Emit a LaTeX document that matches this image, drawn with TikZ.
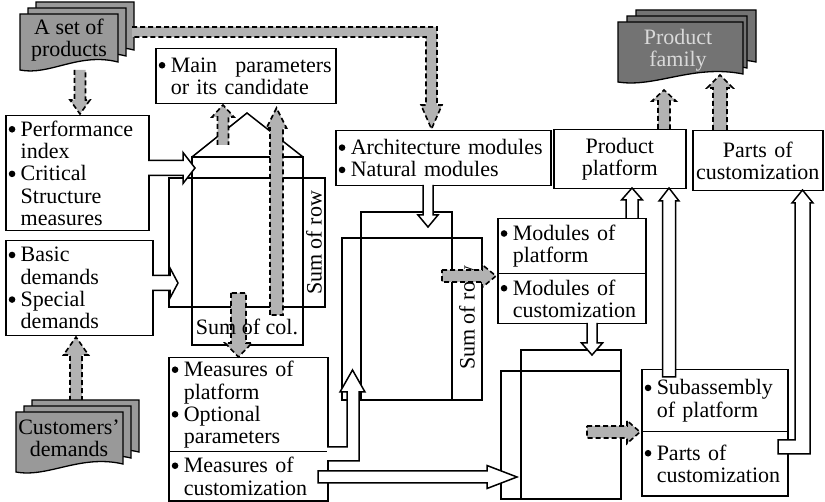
\documentclass[tikz,border=0pt]{standalone}
\usepackage{fontspec}
\setmainfont{Liberation Serif}
\newcommand\bl[1]{\makebox[12pt][l]{\tikz[baseline=-7pt]\fill[black] (3.3pt,0pt) circle[radius=3.3pt];}#1}
\newcommand\ind{\hspace*{12pt}}
% vertical block arrow: fill, line, x, y0, ytip, shaft hw, head hw, y head base
\newcommand\varr[8]{%
 \fill[#1] (#3-#6,#4) -- (#3-#6,#8) -- (#3-#7,#8) -- (#3,#5) -- (#3+#7,#8) -- (#3+#6,#8) -- (#3+#6,#4) -- cycle;
 \draw[#2] (#3-#6,#4) -- (#3-#6,#8) -- (#3-#7,#8) -- (#3,#5) -- (#3+#7,#8) -- (#3+#6,#8) -- (#3+#6,#4);}
\newcommand\varrc[8]{%
 \filldraw[#1,#2] (#3-#6,#4) -- (#3-#6,#8) -- (#3-#7,#8) -- (#3,#5) -- (#3+#7,#8) -- (#3+#6,#8) -- (#3+#6,#4) -- cycle;}
% horizontal block arrow: fill, line, y, x0, xtip, shaft hw, head hw, x head base
\newcommand\harr[8]{%
 \fill[#1] (#4,#3-#6) -- (#8,#3-#6) -- (#8,#3-#7) -- (#5,#3) -- (#8,#3+#7) -- (#8,#3+#6) -- (#4,#3+#6) -- cycle;
 \draw[#2] (#4,#3-#6) -- (#8,#3-#6) -- (#8,#3-#7) -- (#5,#3) -- (#8,#3+#7) -- (#8,#3+#6) -- (#4,#3+#6);}
\newcommand\harrc[8]{%
 \filldraw[#1,#2] (#4,#3-#6) -- (#8,#3-#6) -- (#8,#3-#7) -- (#5,#3) -- (#8,#3+#7) -- (#8,#3+#6) -- (#4,#3+#6) -- cycle;}
% document page: x y w h fill
\newcommand\docpage[5]{%
 \filldraw[fill=#5, draw=black, line width=1.3pt] (#1,#2) -- (#1+#3,#2) -- (#1+#3,#2+#4-8)
   .. controls (#1+0.6*#3,#2+#4-18) and (#1+0.3*#3,#2+#4+6) .. (#1,#2+#4) -- cycle;}
\begin{document}
\begin{tikzpicture}[x=1pt,y=-1pt,line width=1.5pt,
  font=\fontsize{22}{22.3}\selectfont,
  box/.style={draw, line width=1.5pt, anchor=north west, inner xsep=3pt, inner ysep=0pt, align=left},
  cbox/.style={draw, line width=1.5pt, anchor=north west, inner xsep=3pt, inner ysep=0pt, align=center},
  wfill/.style={fill=white},
  wline/.style={draw=black, line width=1.5pt, line join=miter},
  gfill/.style={fill=black!30},
  gline/.style={draw=black, line width=1.6pt, dash pattern=on 5pt off 3pt},
  mat/.style={draw=black, line width=1.5pt}]
\fill[white] (0,0) rectangle (825,502);
\useasboundingbox (0,0) rectangle (825,502);

% ---- matrices
\draw[mat] (192,157) -- (247,113) -- (303,157);
\draw[mat] (192,157) rectangle (303,345);
\draw[mat] (169,178) rectangle (325,307);
\draw[mat] (361,212) rectangle (452,400);
\draw[mat] (342,238) rectangle (482,400);
\draw[mat] (521,350) rectangle (621,499);
\draw[mat] (501,371) rectangle (621,499);

% ---- text boxes
\node[box, minimum width=143pt, minimum height=115pt, text width=137pt] (perf) at (5,115)
  {\bl{Performance}\\\ind index\\\bl{Critical}\\\ind Structure\\\ind measures};
\node[box, minimum width=147pt, minimum height=95pt, text width=141pt] (basic) at (5,240)
  {\bl{Basic}\\\ind demands\\\bl{Special}\\\ind demands};
\node[box, minimum width=180pt, minimum height=55pt, text width=174pt] (mainp) at (155,48)
  {\bl{\makebox[161pt][l]{Main\hfill parameters}}\\\ind or its candidate};
\node[box, minimum width=215pt, minimum height=55pt, text width=209pt] (arch) at (335,130)
  {\bl{Architecture modules}\\\bl{Natural modules}};
\node[box, minimum width=159pt, minimum height=94pt, text width=153pt] (measp) at (168,357)
  {\bl{Measures of}\\\ind platform\\\bl{Optional}\\\ind parameters};
\node[box, minimum width=159pt, minimum height=49pt, text width=153pt] (measc) at (168,451)
  {\bl{Measures of}\\\ind customization};
\node[box, minimum width=148pt, minimum height=55pt, text width=142pt] (modp) at (497,218)
  {\bl{Modules of}\\\ind platform};
\node[box, minimum width=148pt, minimum height=50pt, text width=142pt] (modc) at (497,273)
  {\bl{Modules of}\\\ind customization};
\node[cbox, minimum width=132pt, minimum height=59pt, text width=126pt] (pplat) at (553,129)
  {Product\\platform};
\node[cbox, minimum width=130pt, minimum height=60pt, text width=128pt, inner xsep=1pt] (pcust) at (692,130)
  {Parts of\\customization};
\node[box, minimum width=146pt, minimum height=62pt, text width=140pt] (subp) at (641,369)
  {\bl{Subassembly}\\\ind of platform};
\node[box, minimum width=146pt, minimum height=64pt, text width=140pt] (partc) at (641,431)
  {\bl{Parts of}\\\ind customization};

% ---- gray dashed arrow from customers (behind docs)
\varr{gfill}{gline}{76}{401}{337}{6}{12.5}{355}

% ---- documents
\docpage{36}{2}{98}{56}{black!40}
\docpage{28}{8}{98}{56}{black!40}
\docpage{20}{14}{98}{56}{black!40}
\node[align=center, inner sep=0pt] (docA) at (69,40) {A set of\\products};

\docpage{32}{400}{107}{60}{black!40}
\docpage{24}{406}{107}{60}{black!40}
\docpage{16}{412}{107}{60}{black!40}
\node[align=center, inner sep=0pt] (docC) at (69,438) {Customers’\\demands};

\docpage{636}{10}{120}{60}{black!55}
\docpage{627}{16}{120}{60}{black!55}
\docpage{618}{22}{125}{60}{black!55}
\node[align=center, inner sep=0pt, text=black!15] (docF) at (678,50) {Product\\family};

% ---- second matrix label (under arrow)
\node[rotate=90, inner sep=0pt] (sr2) at (467,318) {Sum of row};

% ---- white block arrows
\harr{wfill}{wline}{168}{148}{195}{7.5}{15.5}{183}
\harr{wfill}{wline}{283}{152}{178}{7.5}{15}{170}
\varr{wfill}{wline}{428}{185}{227}{5}{10}{215}
\varr{wfill}{wline}{592}{323}{355}{5}{10.5}{343}
\varr{wfill}{wline}{632}{218}{188}{6}{10.5}{200}
\varrc{wfill}{wline}{669}{377}{188}{6.5}{10}{201}
\fill[white] (327,447) -- (347,447) -- (347,392) -- (340,392) -- (352.5,370) -- (365,392) -- (359,392) -- (359,461) -- (327,461) -- cycle;
\draw[wline] (327,447) -- (347,447) -- (347,392) -- (340,392) -- (352.5,370) -- (365,392) -- (359,392) -- (359,461) -- (327,461);
\harrc{wfill}{wline}{477}{318}{517}{6}{11.5}{487}
\filldraw[wfill,wline] (778,440) -- (795,440) -- (795,203) -- (792,203) -- (802.5,190) -- (813,203) -- (810,203) -- (810,454) -- (778,454) -- cycle;

% ---- gray dashed arrows
\fill[gfill] (132,27) -- (437,27) -- (437,105) -- (442,105) -- (431.5,129) -- (421,105) -- (426,105) -- (426,37) -- (132,37) -- cycle;
\draw[gline] (132,27) -- (437,27) -- (437,105) -- (442,105) -- (431.5,129) -- (421,105) -- (426,105) -- (426,37) -- (132,37);
\varr{gfill}{gline}{80}{70}{114}{5.5}{10}{100}
\varr{gfill}{gline}{223}{145}{105}{5.5}{11}{117}
\varrc{gfill}{gline}{276.5}{315}{108}{6.5}{10}{128}
\varrc{gfill}{gline}{238.5}{293}{357}{7.5}{13.5}{343}
\harrc{gfill}{gline}{276}{442}{496}{6}{11.5}{482}
\harrc{gfill}{gline}{432}{587}{640}{6}{11.5}{627}
\varr{gfill}{gline}{664}{129}{90}{6}{12}{101}
\varr{gfill}{gline}{720}{130}{75}{7}{13}{88}

% ---- first matrix labels
\node[inner sep=0pt] (sc1) at (247,327) {Sum of col.};
\node[rotate=90, inner sep=0pt] (sr1) at (314,243) {Sum of row};
\end{tikzpicture}
\end{document}
